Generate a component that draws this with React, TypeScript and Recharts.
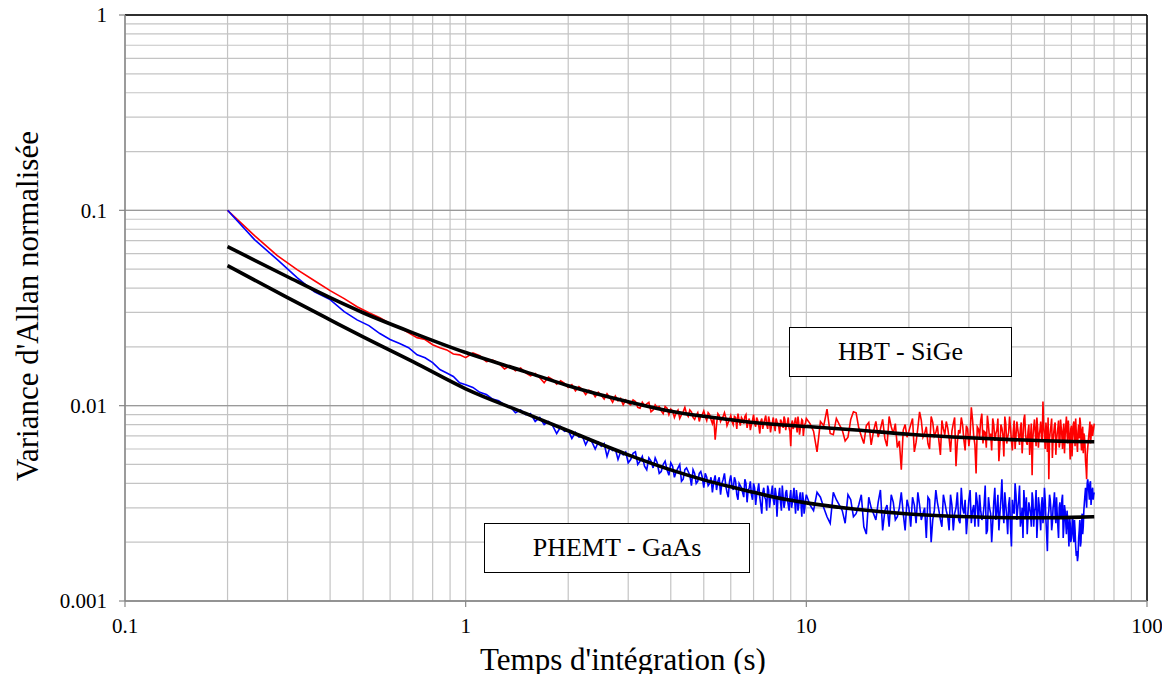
import React from 'react';
import { LineChart, Line, XAxis, YAxis, CartesianGrid, ReferenceLine } from 'recharts';

// Integration time (s), first sampling set
const TIME_S = [
  0.2, 0.24, 0.28, 0.32, 0.36, 0.4, 0.44, 0.48, 0.52, 0.56, 0.6, 0.64, 0.68, 0.72, 0.76, 0.8, 0.84, 0.88, 0.92, 0.96, 1.0,
  1.05, 1.1, 1.15, 1.2, 1.25, 1.3, 1.35, 1.4, 1.45, 1.5, 1.55, 1.6, 1.65, 1.7, 1.75, 1.8, 1.85, 1.9, 1.95, 2.0,
  2.05, 2.1, 2.15, 2.2, 2.25, 2.3, 2.35, 2.4, 2.45, 2.5, 2.55, 2.6, 2.65, 2.7, 2.75, 2.8, 2.85, 2.9, 2.95, 3.0,
  3.1, 3.2, 3.3, 3.4, 3.5, 3.6, 3.7, 3.8, 3.9, 4.0, 4.1, 4.2, 4.3, 4.4, 4.5, 4.6, 4.7, 4.8, 4.9, 5.0,
  5.1, 5.2, 5.3, 5.4, 5.5, 5.6, 5.7, 5.8, 5.9, 6.0, 6.1, 6.2, 6.3, 6.4, 6.5, 6.6, 6.7, 6.8, 6.9, 7.0,
  7.1, 7.2, 7.3, 7.4, 7.5, 7.6, 7.7, 7.8, 7.9, 8.0, 8.1, 8.2, 8.3, 8.4, 8.5, 8.6, 8.7, 8.8, 8.9, 9.0,
  9.1, 9.2, 9.3, 9.4, 9.5, 9.6, 9.7, 9.8, 9.9, 10.0,
  10.5, 11, 11.5, 12, 12.5, 13, 13.5, 14, 14.5, 15, 15.5, 16, 16.5, 17, 17.5, 18, 18.5, 19, 19.5, 20,
  20.5, 21, 21.5, 22, 22.5, 23, 23.5, 24, 24.5, 25, 25.5, 26, 26.5, 27, 27.5, 28, 28.5, 29, 29.5, 30,
  30.5, 31, 31.5, 32, 32.5, 33, 33.5, 34, 34.5, 35, 35.5, 36, 36.5, 37, 37.5, 38, 38.5, 39, 39.5, 40,
  40.5, 41, 41.5, 42, 42.5, 43, 43.5, 44, 44.5, 45, 45.5, 46, 46.5, 47, 47.5, 48, 48.5, 49, 49.5, 50,
  50.5, 51, 51.5, 52, 52.5, 53, 53.5, 54, 54.5, 55, 55.5, 56, 56.5, 57, 57.5, 58, 58.5, 59, 59.5, 60,
  60.5, 61, 61.5, 62, 62.5, 63, 63.5, 64, 64.5, 65, 65.5, 66, 66.5, 67, 67.5, 68, 68.5, 69, 69.5, 70,
];

// HBT - SiGe measured normalised Allan variance (red), at TIME_S
const HBT_SIGE = [
  0.1, 0.0742, 0.0586, 0.0497, 0.0436, 0.0388, 0.0353, 0.0321, 0.0299, 0.0282, 0.0263, 0.0251, 0.0236, 0.0223, 0.0218, 0.0205, 0.0198, 0.0193, 0.0184, 0.0182, 0.0176,
  0.0186, 0.0180, 0.0168, 0.0171, 0.0165, 0.0154, 0.0160, 0.0151, 0.0156, 0.0147, 0.0142, 0.0146, 0.0139, 0.0131, 0.0140, 0.0136, 0.0129, 0.0134, 0.0130, 0.0124,
  0.0128, 0.0119, 0.0125, 0.0121, 0.0114, 0.0120, 0.0118, 0.0111, 0.0117, 0.0113, 0.0108, 0.0115, 0.0110, 0.0104, 0.0112, 0.0106, 0.0109, 0.0101, 0.0107, 0.0103,
  0.0107, 0.0098, 0.0104, 0.0102, 0.0093, 0.0101, 0.0099, 0.0091, 0.0097, 0.0096, 0.0087, 0.0095, 0.0090, 0.0098, 0.0088, 0.0093, 0.0085, 0.0092, 0.0089, 0.0094,
  0.0084, 0.0090, 0.0081, 0.0067, 0.0091, 0.0083, 0.0088, 0.0087, 0.0082, 0.0089, 0.0080, 0.0087, 0.0091, 0.0079, 0.0085, 0.0088, 0.0077, 0.0086, 0.0080, 0.0090,
  0.0078, 0.0084, 0.0072, 0.0086, 0.0081, 0.0089, 0.0076, 0.0083, 0.0079, 0.0087, 0.0074, 0.0083, 0.0078, 0.0085, 0.0080, 0.0088, 0.0075, 0.0082, 0.0077, 0.0062,
  0.0084, 0.0079, 0.0087, 0.0073, 0.0082, 0.0076, 0.0085, 0.0070, 0.0080, 0.0086,
  0.0074, 0.0083, 0.0096, 0.0071, 0.0080, 0.0066, 0.0085, 0.0092, 0.0070, 0.0079, 0.0063, 0.0083, 0.0076, 0.0068, 0.0088, 0.0072, 0.0061, 0.0047, 0.0080, 0.0074,
  0.0086, 0.0065, 0.0093, 0.0069, 0.0078, 0.0060, 0.0082, 0.0073, 0.0066, 0.0084, 0.0071, 0.0077, 0.0058, 0.0081, 0.0049, 0.0075, 0.0087, 0.0067, 0.0079, 0.0062,
  0.0098, 0.0070, 0.0045, 0.0076, 0.0084, 0.0064, 0.0073, 0.0089, 0.0068, 0.0059, 0.0080, 0.0072, 0.0086, 0.0063, 0.0077, 0.0055, 0.0081, 0.0069, 0.0088, 0.0066,
  0.0074, 0.0060, 0.0083, 0.0070, 0.0077, 0.0057, 0.0085, 0.0072, 0.0063, 0.0080, 0.0068, 0.0044, 0.0078, 0.0073, 0.0087, 0.0061, 0.0075, 0.0069, 0.0105, 0.0071,
  0.0082, 0.0058, 0.0042, 0.0074, 0.0086, 0.0067, 0.0079, 0.0056, 0.0072, 0.0084, 0.0065, 0.0077, 0.0060, 0.0081, 0.0070, 0.0088, 0.0064, 0.0074, 0.0053, 0.0079,
  0.0068, 0.0083, 0.0062, 0.0073, 0.0058, 0.0080, 0.0087, 0.0066, 0.0075, 0.0057, 0.0070, 0.0052, 0.0042, 0.0061, 0.0071, 0.0083, 0.0069, 0.0078, 0.0074, 0.0081,
];

// PHEMT - GaAs measured normalised Allan variance (blue), at TIME_S
const PHEMT_GAAS = [
  0.1, 0.0708, 0.0559, 0.0452, 0.0383, 0.0349, 0.0303, 0.0275, 0.0257, 0.0234, 0.0218, 0.0208, 0.0198, 0.0182, 0.0176, 0.0166, 0.0153, 0.0147, 0.0141, 0.0131, 0.0128,
  0.0124, 0.0117, 0.0114, 0.0108, 0.0106, 0.0101, 0.0099, 0.0092, 0.0095, 0.0090, 0.0091, 0.0083, 0.0087, 0.0080, 0.0083, 0.0079, 0.0072, 0.0078, 0.0074, 0.0075,
  0.0068, 0.0073, 0.0069, 0.0070, 0.0063, 0.0068, 0.0065, 0.0060, 0.0065, 0.0062, 0.0064, 0.0055, 0.0061, 0.0059, 0.0060, 0.0053, 0.0058, 0.0056, 0.0058, 0.0051,
  0.0057, 0.0050, 0.0055, 0.0047, 0.0052, 0.0054, 0.0045, 0.0050, 0.0047, 0.0051, 0.0043, 0.0048, 0.0041, 0.0047, 0.0046, 0.0039, 0.0045, 0.0041, 0.0046, 0.0038,
  0.0043, 0.0040, 0.0036, 0.0044, 0.0041, 0.0035, 0.0042, 0.0039, 0.0034, 0.0044, 0.0037, 0.0041, 0.0033, 0.0039, 0.0036, 0.0042, 0.0032, 0.0038, 0.0035, 0.0040,
  0.0031, 0.0037, 0.0034, 0.0028, 0.0038, 0.0033, 0.0039, 0.0030, 0.0036, 0.0033, 0.0038, 0.0027, 0.0035, 0.0032, 0.0039, 0.0030, 0.0036, 0.0033, 0.0029, 0.0037,
  0.0032, 0.0038, 0.0028, 0.0034, 0.0031, 0.0036, 0.0027, 0.0033, 0.0030, 0.0035,
  0.0029, 0.0034, 0.0027, 0.0036, 0.0031, 0.0025, 0.0033, 0.0028, 0.0035, 0.0022, 0.0030, 0.0026, 0.0037, 0.0029, 0.0024, 0.0032, 0.0027, 0.0036, 0.0023, 0.0030,
  0.0034, 0.0025, 0.0031, 0.0028, 0.0021, 0.0033, 0.0026, 0.0037, 0.0029, 0.0024, 0.0032, 0.0027, 0.0035, 0.0023, 0.0030, 0.0026, 0.0038, 0.0028, 0.0022, 0.0033,
  0.0025, 0.0031, 0.0036, 0.0024, 0.0029, 0.0027, 0.0039, 0.0023, 0.0030, 0.0020, 0.0032, 0.0026, 0.0035, 0.0028, 0.0042, 0.0025, 0.0031, 0.0022, 0.0034, 0.0019,
  0.0029, 0.0040, 0.0026, 0.0033, 0.0024, 0.0030, 0.0037, 0.0027, 0.0022, 0.0032, 0.0028, 0.0036, 0.0024, 0.0030, 0.0021, 0.0034, 0.0027, 0.0031, 0.0025, 0.0038,
  0.0026, 0.0018, 0.0029, 0.0033, 0.0023, 0.0030, 0.0036, 0.0025, 0.0028, 0.0021, 0.0032, 0.0027, 0.0035, 0.0024, 0.0029, 0.0022, 0.0026, 0.0019, 0.0025, 0.0021,
  0.0027, 0.0020, 0.0023, 0.0017, 0.0016, 0.0021, 0.0026, 0.0020, 0.0028, 0.0024, 0.0032, 0.0038, 0.0030, 0.0042, 0.0036, 0.0040, 0.0031, 0.0037, 0.0033, 0.0036,
];

// Integration time (s), interleaved sampling set (3 s to 70 s)
const TIME_S_2 = [
  3.05, 3.15, 3.25, 3.35, 3.45, 3.55, 3.65, 3.75, 3.85, 3.95, 4.05, 4.15, 4.25, 4.35, 4.45, 4.55, 4.65, 4.75, 4.85, 4.95,
  5.05, 5.15, 5.25, 5.35, 5.45, 5.55, 5.65, 5.75, 5.85, 5.95, 6.05, 6.15, 6.25, 6.35, 6.45, 6.55, 6.65, 6.75, 6.85, 6.95,
  7.05, 7.15, 7.25, 7.35, 7.45, 7.55, 7.65, 7.75, 7.85, 7.95, 8.05, 8.15, 8.25, 8.35, 8.45, 8.55, 8.65, 8.75, 8.85, 8.95,
  9.05, 9.15, 9.25, 9.35, 9.45, 9.55, 9.65, 9.75, 9.85, 9.95,
  10.25, 10.75, 11.25, 11.75, 12.25, 12.75, 13.25, 13.75, 14.25, 14.75, 15.25, 15.75, 16.25, 16.75, 17.25, 17.75, 18.25, 18.75, 19.25, 19.75,
  20.25, 20.75, 21.25, 21.75, 22.25, 22.75, 23.25, 23.75, 24.25, 24.75, 25.25, 25.75, 26.25, 26.75, 27.25, 27.75, 28.25, 28.75, 29.25, 29.75,
  30.25, 30.75, 31.25, 31.75, 32.25, 32.75, 33.25, 33.75, 34.25, 34.75, 35.25, 35.75, 36.25, 36.75, 37.25, 37.75, 38.25, 38.75, 39.25, 39.75,
  40.25, 40.75, 41.25, 41.75, 42.25, 42.75, 43.25, 43.75, 44.25, 44.75, 45.25, 45.75, 46.25, 46.75, 47.25, 47.75, 48.25, 48.75, 49.25, 49.75,
  50.25, 50.75, 51.25, 51.75, 52.25, 52.75, 53.25, 53.75, 54.25, 54.75, 55.25, 55.75, 56.25, 56.75, 57.25, 57.75, 58.25, 58.75, 59.25, 59.75,
  60.25, 60.75, 61.25, 61.75, 62.25, 62.75, 63.25, 63.75, 64.25, 64.75, 65.25, 65.75, 66.25, 66.75, 67.25, 67.75, 68.25, 68.75, 69.25, 69.75,
];

// HBT - SiGe (red), at TIME_S_2
const HBT_SIGE_2 = [
  0.0101, 0.0105, 0.0097, 0.0100, 0.0104, 0.0095, 0.0098, 0.0094, 0.0099, 0.0090, 0.0094, 0.0092, 0.0086, 0.0093, 0.0091, 0.0095, 0.0087, 0.0089, 0.0083, 0.0090,
  0.0088, 0.0092, 0.0085, 0.0087, 0.0080, 0.0089, 0.0086, 0.0092, 0.0079, 0.0085, 0.0083, 0.0088, 0.0076, 0.0084, 0.0087, 0.0081, 0.0090, 0.0083, 0.0075, 0.0084,
  0.0081, 0.0087, 0.0079, 0.0083, 0.0076, 0.0085, 0.0080, 0.0088, 0.0073, 0.0082, 0.0079, 0.0086, 0.0081, 0.0072, 0.0083, 0.0077, 0.0085, 0.0080, 0.0087, 0.0074,
  0.0081, 0.0076, 0.0083, 0.0079, 0.0088, 0.0071, 0.0080, 0.0084, 0.0077, 0.0082,
  0.0081, 0.0058, 0.0079, 0.0072, 0.0086, 0.0075, 0.0069, 0.0093, 0.0077, 0.0064, 0.0082, 0.0074, 0.0069, 0.0085, 0.0062, 0.0078, 0.0081, 0.0066, 0.0075, 0.0069,
  0.0080, 0.0058, 0.0077, 0.0084, 0.0072, 0.0064, 0.0088, 0.0070, 0.0079, 0.0056, 0.0076, 0.0083, 0.0068, 0.0074, 0.0087, 0.0065, 0.0072, 0.0080, 0.0059, 0.0076,
  0.0071, 0.0085, 0.0063, 0.0078, 0.0069, 0.0091, 0.0074, 0.0061, 0.0079, 0.0072, 0.0086, 0.0066, 0.0075, 0.0052, 0.0080, 0.0071, 0.0088, 0.0064, 0.0073, 0.0077,
  0.0059, 0.0084, 0.0070, 0.0076, 0.0063, 0.0082, 0.0068, 0.0090, 0.0065, 0.0074, 0.0056, 0.0081, 0.0069, 0.0085, 0.0062, 0.0077, 0.0071, 0.0083, 0.0066, 0.0078,
  0.0060, 0.0074, 0.0087, 0.0068, 0.0079, 0.0054, 0.0073, 0.0082, 0.0066, 0.0077, 0.0061, 0.0085, 0.0070, 0.0075, 0.0057, 0.0079, 0.0072, 0.0084, 0.0067, 0.0076,
  0.0055, 0.0080, 0.0071, 0.0086, 0.0065, 0.0074, 0.0068, 0.0082, 0.0059, 0.0078, 0.0072, 0.0063, 0.0048, 0.0056, 0.0066, 0.0076, 0.0064, 0.0080, 0.0070, 0.0077,
];

// PHEMT - GaAs (blue), at TIME_S_2
const PHEMT_GAAS_2 = [
  0.0053, 0.0058, 0.0052, 0.0049, 0.0054, 0.0048, 0.0051, 0.0046, 0.0052, 0.0044, 0.0049, 0.0046, 0.0050, 0.0042, 0.0048, 0.0044, 0.0047, 0.0040, 0.0045, 0.0043,
  0.0045, 0.0039, 0.0043, 0.0041, 0.0037, 0.0043, 0.0040, 0.0045, 0.0036, 0.0041, 0.0039, 0.0043, 0.0035, 0.0040, 0.0038, 0.0034, 0.0040, 0.0037, 0.0041, 0.0033,
  0.0038, 0.0035, 0.0040, 0.0031, 0.0036, 0.0034, 0.0029, 0.0037, 0.0034, 0.0039, 0.0031, 0.0035, 0.0033, 0.0038, 0.0029, 0.0034, 0.0032, 0.0037, 0.0031, 0.0034,
  0.0030, 0.0035, 0.0032, 0.0037, 0.0029, 0.0034, 0.0031, 0.0036, 0.0028, 0.0033,
  0.0031, 0.0036, 0.0030, 0.0025, 0.0033, 0.0029, 0.0035, 0.0027, 0.0031, 0.0024, 0.0034, 0.0028, 0.0032, 0.0023, 0.0031, 0.0035, 0.0026, 0.0030, 0.0028, 0.0033,
  0.0024, 0.0031, 0.0036, 0.0026, 0.0030, 0.0034, 0.0020, 0.0029, 0.0032, 0.0026, 0.0035, 0.0029, 0.0023, 0.0031, 0.0028, 0.0036, 0.0025, 0.0030, 0.0033, 0.0027,
  0.0037, 0.0029, 0.0024, 0.0032, 0.0035, 0.0026, 0.0031, 0.0022, 0.0034, 0.0028, 0.0025, 0.0038, 0.0029, 0.0023, 0.0033, 0.0030, 0.0036, 0.0027, 0.0031, 0.0024,
  0.0033, 0.0028, 0.0035, 0.0030, 0.0039, 0.0026, 0.0021, 0.0031, 0.0034, 0.0027, 0.0030, 0.0024, 0.0033, 0.0029, 0.0037, 0.0026, 0.0031, 0.0023, 0.0034, 0.0028,
  0.0033, 0.0022, 0.0027, 0.0035, 0.0029, 0.0025, 0.0032, 0.0028, 0.0034, 0.0024, 0.0030, 0.0027, 0.0033, 0.0021, 0.0031, 0.0025, 0.0029, 0.0023, 0.0027, 0.0020,
  0.0024, 0.0022, 0.0026, 0.0019, 0.0018, 0.0017, 0.0023, 0.0019, 0.0025, 0.0022, 0.0029, 0.0035, 0.0034, 0.0040, 0.0039, 0.0033, 0.0041, 0.0034, 0.0038, 0.0035,
];

// Fitted curves (black)
const FIT_T = [0.2, 0.3, 0.4, 0.5, 0.7, 1, 1.5, 2, 3, 4, 5, 6, 7, 8, 10, 14, 20, 30, 40, 50, 60, 70];
const FIT_HBT = [0.0652, 0.0457, 0.0357, 0.0299, 0.0236, 0.0187, 0.0149, 0.01265, 0.01047, 0.00936, 0.00882, 0.00847, 0.0082, 0.00803, 0.00782, 0.0075, 0.00714, 0.00685, 0.0067, 0.00661, 0.00656, 0.00653];
const FIT_PHEMT = [0.0521, 0.0357, 0.0275, 0.0225, 0.0168, 0.0122, 0.00913, 0.00744, 0.0056, 0.00469, 0.00417, 0.00384, 0.0036, 0.00341, 0.00318, 0.00295, 0.00279, 0.0027, 0.00267, 0.00267, 0.00268, 0.0027];

// Axis ticks and grid lines
const X_MAJOR = [0.1, 1, 10, 100];
const Y_MAJOR = [0.001, 0.01, 0.1, 1];
const X_GRID = [
  0.1, 0.2, 0.3, 0.4, 0.5, 0.6, 0.7, 0.8, 0.9,
  1, 2, 3, 4, 5, 6, 7, 8, 9,
  10, 20, 30, 40, 50, 60, 70, 80, 90, 100,
];
const Y_GRID = [
  0.001, 0.002, 0.003, 0.004, 0.005, 0.006, 0.007, 0.008, 0.009,
  0.01, 0.02, 0.03, 0.04, 0.05, 0.06, 0.07, 0.08, 0.09,
  0.1, 0.2, 0.3, 0.4, 0.5, 0.6, 0.7, 0.8, 0.9, 1,
];

const measured = [
  ...TIME_S.map((t, i) => ({ t, hbt: HBT_SIGE[i], phemt: PHEMT_GAAS[i] })),
  ...TIME_S_2.map((t, i) => ({ t, hbt: HBT_SIGE_2[i], phemt: PHEMT_GAAS_2[i] })),
].sort((a, b) => a.t - b.t);
const fits = FIT_T.map((t, i) => ({ t, hbtFit: FIT_HBT[i], phemtFit: FIT_PHEMT[i] }));

const SERIF = '"Liberation Serif", "Times New Roman", Times, serif';
const tickStyle = { fontFamily: 'Liberation Serif', fontSize: 21, fill: '#000' };
const AXIS_GRAY = '#868686';

const boxStyle: React.CSSProperties = {
  position: 'absolute',
  boxSizing: 'border-box',
  border: '1.5px solid #000',
  background: '#fff',
  display: 'flex',
  alignItems: 'center',
  justifyContent: 'center',
  fontFamily: SERIF,
  fontSize: 26,
  color: '#000',
  whiteSpace: 'nowrap',
};

export default function App() {
  return (
    <div
      style={{
        position: 'relative',
        width: 1154,
        height: 682,
        marginTop: -8,
        marginBottom: -8,
        fontFamily: SERIF,
      }}
    >
      <LineChart
        width={1154}
        height={682}
        data={measured}
        margin={{ top: 15, right: 15, bottom: 0, left: 0 }}
        style={{ fontFamily: SERIF }}
      >
        <XAxis
          xAxisId="grid"
          dataKey="t"
          type="number"
          scale="log"
          domain={[0.1, 100]}
          ticks={X_GRID}
          interval={0}
          allowDataOverflow
          hide
        />
        <YAxis
          yAxisId="grid"
          type="number"
          scale="log"
          domain={[0.001, 1]}
          ticks={Y_GRID}
          interval={0}
          allowDataOverflow
          hide
        />
        <CartesianGrid xAxisId="grid" yAxisId="grid" stroke="#c4c4c4" strokeWidth={1.2} />
        <CartesianGrid vertical={false} stroke="#9a9a9a" strokeWidth={1.2} />
        <XAxis
          dataKey="t"
          type="number"
          scale="log"
          domain={[0.1, 100]}
          ticks={X_MAJOR}
          interval={0}
          allowDataOverflow
          height={81}
          tick={tickStyle}
          tickSize={6}
          tickMargin={11}
          tickFormatter={(v: number) => String(v)}
          axisLine={{ stroke: AXIS_GRAY, strokeWidth: 1.5 }}
          tickLine={{ stroke: AXIS_GRAY, strokeWidth: 1.2 }}
        />
        <YAxis
          type="number"
          scale="log"
          domain={[0.001, 1]}
          ticks={Y_MAJOR}
          interval={0}
          allowDataOverflow
          width={117}
          tick={tickStyle}
          tickSize={6}
          tickMargin={12}
          tickFormatter={(v: number) => String(v)}
          axisLine={{ stroke: AXIS_GRAY, strokeWidth: 1.5 }}
          tickLine={{ stroke: AXIS_GRAY, strokeWidth: 1.2 }}
        />
        <ReferenceLine y={1} stroke="#000" strokeWidth={1.5} />
        <ReferenceLine x={100} stroke="#000" strokeWidth={1.5} />
        <Line
          type="linear"
          dataKey="hbt"
          stroke="#ff0000"
          strokeWidth={1.6}
          dot={false}
          isAnimationActive={false}
        />
        <Line
          type="linear"
          dataKey="phemt"
          stroke="#0000ff"
          strokeWidth={1.6}
          dot={false}
          isAnimationActive={false}
        />
        <Line
          data={fits}
          type="monotone"
          dataKey="hbtFit"
          stroke="#000"
          strokeWidth={3.6}
          dot={false}
          isAnimationActive={false}
        />
        <Line
          data={fits}
          type="monotone"
          dataKey="phemtFit"
          stroke="#000"
          strokeWidth={3.6}
          dot={false}
          isAnimationActive={false}
        />
      </LineChart>

      <div style={{ ...boxStyle, left: 781, top: 327, width: 223, height: 50 }}>HBT - SiGe</div>
      <div style={{ ...boxStyle, left: 476, top: 523, width: 266, height: 50 }}>PHEMT - GaAs</div>

      <div
        style={{
          position: 'absolute',
          left: 19.5 - 250,
          top: 306 - 20,
          width: 500,
          height: 40,
          lineHeight: '40px',
          textAlign: 'center',
          transform: 'rotate(-90deg)',
          fontFamily: SERIF,
          fontSize: 31,
          color: '#000',
          whiteSpace: 'nowrap',
        }}
      >
        Variance d'Allan normalisée
      </div>
      <div
        style={{
          position: 'absolute',
          left: 615 - 250,
          top: 642,
          width: 500,
          height: 36,
          lineHeight: '36px',
          textAlign: 'center',
          fontFamily: SERIF,
          fontSize: 31,
          color: '#000',
          whiteSpace: 'nowrap',
        }}
      >
        Temps d'intégration (s)
      </div>
    </div>
  );
}
